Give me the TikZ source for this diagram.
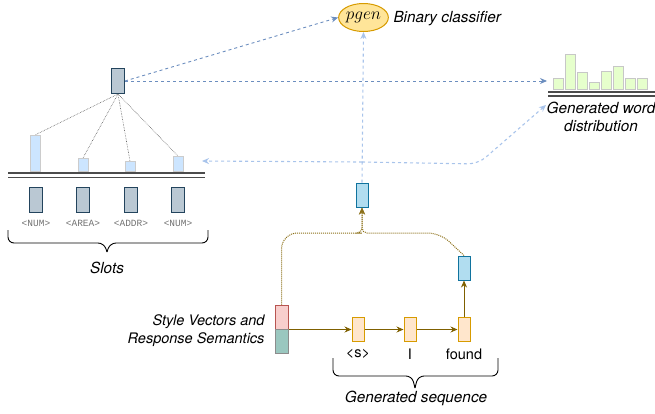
\documentclass[tikz,border=0pt]{standalone}
\usepackage{fontspec}
\setmainfont{TeX Gyre Heros}
\setmonofont{Liberation Mono}
\usetikzlibrary{arrows.meta,shapes.geometric}
\definecolor{slotfill}{HTML}{BAC8D3}
\definecolor{slotline}{HTML}{23445D}
\definecolor{barblue}{HTML}{CCE5FF}
\definecolor{hidfill}{HTML}{B1DDF0}
\definecolor{hidline}{HTML}{10739E}
\definecolor{tokfill}{HTML}{FFE6CC}
\definecolor{tokline}{HTML}{D79B00}
\definecolor{genfill}{HTML}{FFE599}
\definecolor{wordgreen}{HTML}{E6FFCC}
\definecolor{stylepink}{HTML}{F8CECC}
\definecolor{stylered}{HTML}{B85450}
\definecolor{styleteal}{HTML}{9AC7BF}
\definecolor{flowbrown}{HTML}{7F6000}
\definecolor{dashblue}{HTML}{6C8EBF}
\definecolor{lightdash}{HTML}{A9C4EB}

\begin{document}
\begin{tikzpicture}[x=1pt,y=-1pt,
  txt/.style={font=\fontsize{15.3}{18}\selectfont\itshape},
  word/.style={font=\fontsize{14.5}{17}\selectfont},
  slotname/.style={font=\ttfamily\fontsize{9.5}{11}\selectfont, text=black!55},
  cell/.style={draw, line width=1pt, minimum width=12pt, minimum height=24pt, inner sep=0pt},
  slotcell/.style={cell, fill=slotfill, draw=slotline, minimum width=13pt, minimum height=25pt},
  hidcell/.style={cell, fill=hidfill, draw=hidline},
  tokcell/.style={cell, fill=tokfill, draw=tokline},
  attbar/.style={draw=black!20, line width=1pt, fill=barblue, minimum width=10pt, inner sep=0pt, anchor=south},
  wordbar/.style={draw=black!22, line width=1pt, fill=wordgreen, minimum width=10pt, inner sep=0pt, anchor=south},
  tip/.style={-{Stealth[length=7pt,width=6pt]}},
  darkdash/.style={tip, dashblue, dashed, line width=0.9pt},
  lightdashed/.style={tip, lightdash, dashed, line width=1.1pt},
  brownflow/.style={tip, flowbrown, line width=0.8pt},
  browndot/.style={tip, flowbrown!90, densely dotted, line width=1pt},
  twoline/.style={black!70, line width=1.3pt}]
\useasboundingbox (0,0) rectangle (655,413);

% Slot memory
\node[slotcell] (query) at (118,81) {};
\foreach \i/\x/\h in {1/35/36,2/83/13,3/130/10,4/178/15} {
  \node[attbar, minimum height=\h pt] (att\i) at (\x,172) {};
  \draw[black!65, densely dotted, line width=0.6pt] (query.south) -- (att\i.north);
}
\draw[twoline] (8,173) -- (205,173);
\draw[twoline] (8,177.5) -- (205,177.5);
\foreach \i/\x/\s in {1/36/<NUM>,2/83/<AREA>,3/131/<ADDR>,4/178/<NUM>} {
  \node[slotcell] (slot\i) at (\x,199.5) {};
  \node[slotname] (sname\i) at (\x,223) {\s};
}
\draw[line width=0.9pt, rounded corners=6pt] (8,230) -- (8,243) -- (104,243) -- (107,252);
\draw[line width=0.9pt, rounded corners=6pt] (208,230) -- (208,243) -- (110,243) -- (107,252);
\node[txt] (slots) at (107,268) {Slots};

% Binary classifier
\node[ellipse, draw=tokline, fill=genfill, line width=1pt, minimum width=43pt, minimum height=28pt, inner sep=0pt] (pgen) at (363.5,17.5) {\fontsize{17}{19}\selectfont$pgen$};
\node[txt, anchor=west] (bincls) at (390,19) {Binary classifier};

% Generated word distribution
\foreach \i/\x/\h in {1/558/11,2/570/35,3/582/17,4/594/7,5/606/18,6/618/23,7/630/11,8/642/11} {
  \node[wordbar, minimum height=\h pt] (w\i) at (\x,90) {};
}
\draw[twoline] (548,92) -- (655,92);
\draw[twoline] (548,96) -- (655,96);
\node[txt, align=center] (distlbl) at (601,116.5) {Generated word\\distribution};
\coordinate (distin) at (547,81);
\coordinate (distlow) at (546,105);

% Style vectors and decoder
\node[cell, fill=stylepink, draw=stylered, minimum width=13pt] (stylea) at (281.5,317) {};
\node[cell, fill=styleteal, draw=black!45, minimum width=13pt] (styleb) at (281.5,341) {};
\node[txt, font=\fontsize{14.5}{18}\selectfont\itshape, align=right, anchor=east] (stylelbl) at (268,331) {Style Vectors and\\Response Semantics};
\foreach \i/\x/\w in {1/358/\textless s\textgreater,2/410/I,3/464/found} {
  \node[tokcell] (tok\i) at (\x,329.5) {};
  \node[word] (tw\i) at (\x,354) {\w};
}
\draw[brownflow] (stylea.south east) -- (tok1.west);
\draw[brownflow] (tok1) -- (tok2);
\draw[brownflow] (tok2) -- (tok3);
\node[hidcell] (outcell) at (464,268) {};
\draw[brownflow] (tok3) -- (outcell);
\node[hidcell] (hid) at (362,195) {};
\draw[browndot, rounded corners=16pt] (stylea.north) |- (346,233) [rounded corners=5pt] -- (362,233) -- (hid.south);
\draw[browndot, rounded corners=12pt] (outcell.north) -- (440,233) [rounded corners=5pt] -- (362,233) -- (hid.south);
\draw[line width=0.9pt, rounded corners=6pt] (333,358) -- (333,376) -- (412,376) -- (415,388);
\draw[line width=0.9pt, rounded corners=6pt] (498,358) -- (498,376) -- (418,376) -- (415,388);
\node[txt] (genseq) at (416,398) {Generated sequence};

% Dashed connections
\draw[darkdash] (query.east) -- (pgen.west);
\draw[darkdash] (query.east |- distin) -- (distin);
\coordinate (split) at (362,162);
\coordinate (slotin) at (202,161);
\draw[lightdashed] (hid.north) -- (pgen.south);
\draw[lightdashed] (split) -- (slotin);
\draw[lightdashed, rounded corners=10pt] (split) -- (478,164) -- (distlow);
\end{tikzpicture}
\end{document}
